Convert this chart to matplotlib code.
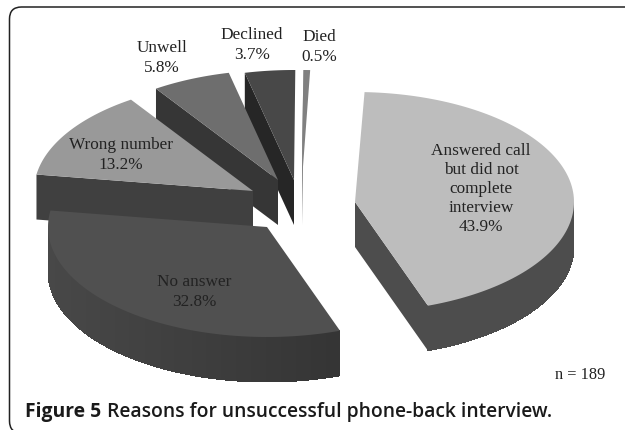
import numpy as np
import matplotlib
matplotlib.use("Agg")
import matplotlib.pyplot as plt
from matplotlib.patches import FancyBboxPatch, Polygon

# data
labels = ["Answered call\nbut did not\ncomplete\ninterview", "No answer", "Wrong number",
          "Unwell", "Declined", "Died"]
percent = [43.9, 32.8, 13.2, 5.8, 3.7, 0.5]
n_label = "n = 189"
caption_bold = "Figure 5"
caption_text = "Reasons for unsuccessful phone-back interview."

# layout, all in pixels
W, H = 625, 431
start_angle = 2.5
rx, ry, depth = 219, 110, 45
apex_x = [355, 267, 253, 278, 294, 302]
apex_y = [203, 228, 192, 181, 181, 181]
label_x = [481, 194, 121, 162, 252, 319]
label_y = [189, 292, 155, 58, 45, 47]

top_col = ["#bdbdbd", "#505050", "#999999", "#6e6e6e", "#484848", "#808080"]
wall_col = ["#4d4d4d", "#404040", "#404040", "#363636", "#262626", "#3a3a3a"]
rim_left = "#484848"
rim_right = "#2b2b2b"


def point(x0, y0, ang):
    a = np.radians(ang)
    return x0 + rx * np.sin(a), y0 - ry * np.cos(a)


def mix(c1, c2, t):
    a = np.array(matplotlib.colors.to_rgb(c1))
    b = np.array(matplotlib.colors.to_rgb(c2))
    return a + (b - a) * t


fig = plt.figure(figsize=(W / 100, H / 100), dpi=100)
ax = fig.add_axes([0, 0, 1, 1])
ax.set_xlim(0, W)
ax.set_ylim(H, 0)
ax.axis("off")

ax.add_patch(FancyBboxPatch((9.5, 8), 640, 426, boxstyle="round,pad=0,rounding_size=12",
                            fc="white", ec="#222222", lw=1.1, zorder=0))

# draw back slices first so the front ones overlap them
ends = start_angle + np.cumsum(percent) * 3.6
starts = ends - np.array(percent) * 3.6
for i in [5, 4, 3, 2, 1, 0]:
    x0, y0 = apex_x[i], apex_y[i]
    a0, a1 = starts[i], ends[i]
    arc = np.linspace(a0, a1, 120)
    xs, ys = point(x0, y0, arc)

    # radial walls
    if i == 0:
        px, py = point(x0, y0, a1)
    else:
        px, py = point(x0, y0, a0)
    if i != 1:
        ax.add_patch(Polygon([(x0, y0), (px, py), (px, py + depth), (x0, y0 + depth)],
                             fc=wall_col[i], ec="none", zorder=7 - i))

    # outer rim, front half only, cut into strips for the shading
    front = arc[(arc > 90) & (arc < 270)]
    for a, b in zip(front[:-1], front[1:]):
        xa, ya = point(x0, y0, a)
        xb, yb = point(x0, y0, b)
        t = (xa - (x0 - rx)) / (2 * rx)
        ax.add_patch(Polygon([(xa, ya), (xb, yb), (xb, yb + depth), (xa, ya + depth)],
                             fc=mix(rim_left, rim_right, t) if i == 1 else wall_col[i],
                             ec="none", lw=0, aa=False, zorder=7 - i))

    ax.add_patch(Polygon(np.column_stack([np.r_[x0, xs], np.r_[y0, ys]]),
                         fc=top_col[i], ec="none", zorder=7.5 - i))

for i, name in enumerate(labels):
    ax.text(label_x[i], label_y[i], "%s\n%.1f%%" % (name, percent[i]), ha="center", va="center",
            family="Liberation Serif", fontsize=12.4, color="#222222", linespacing=1.27, zorder=20)

ax.text(580, 375, n_label, ha="center", va="center", family="Liberation Serif", fontsize=11.8,
        color="#222222")
bold = ax.text(25, 412, caption_bold, ha="left", va="center", family="Open Sans", weight="bold",
               fontsize=13.9, color="#1a1a1a")
fig.canvas.draw()
box = bold.get_window_extent()
ax.text(box.x1 + 6, 412, caption_text, ha="left", va="center", family="Open Sans", weight="semibold",
        fontsize=13.9, color="#1a1a1a")

fig.savefig("out.png", dpi=100)
